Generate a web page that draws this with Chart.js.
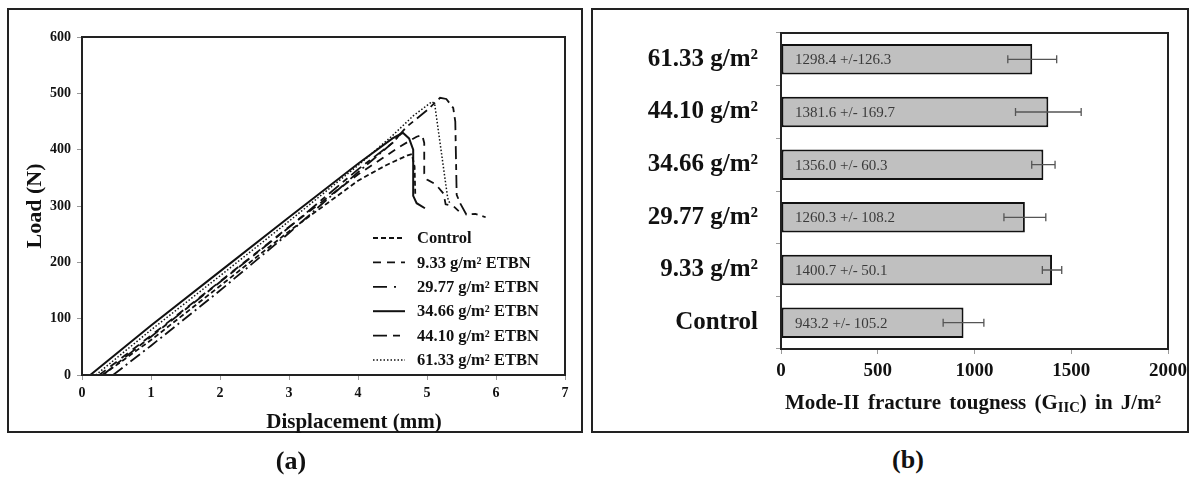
<!DOCTYPE html>
<html>
<head>
<meta charset="utf-8">
<script src="https://cdn.jsdelivr.net/npm/chart.js@4.4.1/dist/chart.umd.min.js"></script>
<style>
  html, body { margin: 0; padding: 0; background: #fff; }
  body { width: 1195px; height: 479px; position: relative; overflow: hidden; }
  .frame { position: absolute; box-sizing: border-box; border: 2px solid #222; }
  canvas { position: absolute; }
  .lbl {
    position: absolute; transform: translate(-50%, -50%); white-space: nowrap;
    font-family: "Liberation Serif", "Times New Roman", serif; font-weight: bold; color: #111;
  }
  .lbl sub { font-size: 70%; vertical-align: -0.25em; line-height: 0; }
</style>
</head>
<body>
<div class="frame" style="left:7px;top:8px;width:576px;height:425px"></div>
<div class="frame" style="left:591px;top:8px;width:598px;height:425px"></div>
<canvas id="chartA" width="590" height="440" style="left:0;top:0"></canvas>
<canvas id="chartB" width="605" height="440" style="left:590px;top:0"></canvas>
<div class="lbl" style="left:354px;top:421px;font-size:21px">Displacement (mm)</div>
<div class="lbl" style="left:973px;top:402px;font-size:21px;word-spacing:3px">Mode-II fracture tougness (G<sub>IIC</sub>) in J/m²</div>
<div class="lbl" style="left:291px;top:461px;font-size:26px">(a)</div>
<div class="lbl" style="left:908px;top:460px;font-size:26px">(b)</div>
<script>
// -------------------------
// Data (a): load vs displacement
// -------------------------
const SERIES_NAMES = ["Control", "9.33 g/m² ETBN", "29.77 g/m² ETBN", "34.66 g/m² ETBN", "44.10 g/m² ETBN", "61.33 g/m² ETBN"];

const ctrlX = [0.30, 1.0, 2.0, 3.0, 4.0, 4.4, 4.72, 4.78, 4.82, 4.83];
const ctrlY = [0, 62, 158, 255, 345, 372, 390, 392, 370, 320];

const e933X = [0.25, 1.0, 2.0, 3.0, 4.0, 4.6, 4.85, 4.93, 4.96, 4.96, 5.0, 5.13, 5.24, 5.27, 5.38, 5.46];
const e933Y = [0, 70, 166, 263, 356, 405, 423, 426, 412, 358, 347, 338, 322, 303, 300, 291];

const e2977X = [0.45, 1.0, 2.0, 3.0, 4.0, 4.5, 4.62];
const e2977Y = [0, 52, 150, 252, 360, 412, 428];

const e3466X = [0.12, 1.0, 2.0, 3.0, 4.0, 4.5, 4.65, 4.74, 4.80, 4.80, 4.85, 4.97];
const e3466Y = [0, 88, 184, 280, 375, 420, 430, 420, 400, 318, 305, 296];

const e4410X = [0.30, 1.0, 2.0, 3.0, 4.0, 4.5, 4.7, 5.0, 5.19, 5.28, 5.38, 5.41, 5.43, 5.48, 5.57, 5.70, 5.85];
const e4410Y = [0, 68, 165, 262, 365, 412, 440, 470, 492, 490, 474, 450, 320, 305, 285, 286, 280];

const e6133X = [0.20, 1.0, 2.0, 3.0, 4.0, 4.5, 4.8, 5.07, 5.11, 5.30, 5.33];
const e6133Y = [0, 80, 176, 273, 372, 425, 460, 485, 482, 314, 305];

const X_TICKS = [0, 1, 2, 3, 4, 5, 6, 7];
const Y_TICKS = [0, 100, 200, 300, 400, 500, 600];

// -------------------------
// Data (b): Mode-II fracture toughness
// -------------------------
const CATEGORIES = ["61.33 g/m²", "44.10 g/m²", "34.66 g/m²", "29.77 g/m²", "9.33 g/m²", "Control"];
const GIIC = [1298.4, 1381.6, 1356.0, 1260.3, 1400.7, 943.2];
const GIIC_ERR = [126.3, 169.7, 60.3, 108.2, 50.1, 105.2];
const BAR_TEXT = ["1298.4 +/-126.3", "1381.6 +/- 169.7", "1356.0 +/- 60.3", "1260.3 +/- 108.2", "1400.7 +/- 50.1", "943.2 +/- 105.2"];
const GIIC_TICKS = [0, 500, 1000, 1500, 2000];

const SERIF = "'Liberation Serif', 'Times New Roman', serif";

function pts(xs, ys) {
  return xs.map((x, i) => ({ x, y: ys[i] }));
}

// -------------------------
// Shared plugins
// -------------------------
const plotBox = {
  id: 'plotBox',
  afterDraw(chart) {
    const a = chart.chartArea, ctx = chart.ctx;
    ctx.save();
    ctx.strokeStyle = '#222';
    ctx.lineWidth = 2;
    ctx.strokeRect(a.left, a.top, a.right - a.left, a.bottom - a.top);
    ctx.restore();
  }
};

// legend drawn inside the plot area of (a)
const insideLegend = {
  id: 'insideLegend',
  afterDraw(chart) {
    const ctx = chart.ctx;
    ctx.save();
    chart.data.datasets.forEach((ds, i) => {
      const y = 238 + i * 24.4;
      ctx.beginPath();
      ctx.setLineDash(ds.legendDash || ds.borderDash || []);
      ctx.lineWidth = ds.borderWidth;
      ctx.strokeStyle = ds.borderColor;
      ctx.moveTo(373, y);
      ctx.lineTo(405, y);
      ctx.stroke();
      ctx.setLineDash([]);
      ctx.fillStyle = '#111';
      ctx.font = `bold 16.5px ${SERIF}`;
      ctx.textBaseline = 'middle';
      ctx.fillText(ds.label, 417, y + 1);
    });
    ctx.restore();
  }
};

// error bars + value text on bars of (b)
const barExtras = {
  id: 'barExtras',
  afterDatasetsDraw(chart) {
    const ctx = chart.ctx;
    const xs = chart.scales.x;
    const meta = chart.getDatasetMeta(0);
    ctx.save();
    meta.data.forEach((bar, i) => {
      const y = bar.y;
      const lo = xs.getPixelForValue(GIIC[i] - GIIC_ERR[i]);
      const hi = xs.getPixelForValue(GIIC[i] + GIIC_ERR[i]);
      ctx.strokeStyle = '#555';
      ctx.lineWidth = 1.3;
      ctx.beginPath();
      ctx.moveTo(lo, y); ctx.lineTo(hi, y);
      ctx.moveTo(lo, y - 4); ctx.lineTo(lo, y + 4);
      ctx.moveTo(hi, y - 4); ctx.lineTo(hi, y + 4);
      ctx.stroke();

      ctx.fillStyle = '#3a3a3a';
      ctx.font = `15px ${SERIF}`;
      ctx.textBaseline = 'middle';
      ctx.fillText(BAR_TEXT[i], chart.chartArea.left + 14, y + 1);
    });
    ctx.restore();
  }
};

// -------------------------
// Chart (a)
// -------------------------
const lineBase = { borderColor: '#111', pointRadius: 0, tension: 0, fill: false };

new Chart(document.getElementById('chartA'), {
  type: 'line',
  data: {
    datasets: [
      { ...lineBase, label: SERIES_NAMES[0], data: pts(ctrlX, ctrlY), borderWidth: 1.8, borderDash: [5, 3] },
      { ...lineBase, label: SERIES_NAMES[1], data: pts(e933X, e933Y), borderWidth: 1.8, borderDash: [8, 6] },
      { ...lineBase, label: SERIES_NAMES[2], data: pts(e2977X, e2977Y), borderWidth: 1.8, borderDash: [12, 4, 2, 4], legendDash: [14, 7, 2, 9] },
      { ...lineBase, label: SERIES_NAMES[3], data: pts(e3466X, e3466Y), borderWidth: 2, borderDash: [] },
      { ...lineBase, label: SERIES_NAMES[4], data: pts(e4410X, e4410Y), borderWidth: 1.8, borderDash: [13, 5, 6, 5], legendDash: [14, 6, 7, 5] },
      { ...lineBase, label: SERIES_NAMES[5], data: pts(e6133X, e6133Y), borderWidth: 1.5, borderDash: [1.5, 2] }
    ]
  },
  options: {
    responsive: false,
    animation: false,
    devicePixelRatio: 1,
    layout: { padding: { left: 22, right: 25, top: 37, bottom: 5 } },
    plugins: { legend: { display: false }, tooltip: { enabled: false } },
    scales: {
      x: {
        type: 'linear',
        min: X_TICKS[0],
        max: X_TICKS[X_TICKS.length - 1],
        afterBuildTicks: s => { s.ticks = X_TICKS.map(v => ({ value: v })); },
        afterFit: s => { s.height = 60; },
        ticks: { color: '#111', padding: 5, font: { family: SERIF, weight: 'bold', size: 14 }, callback: v => String(v) },
        grid: { drawOnChartArea: false, tickLength: 5, color: '#999' },
        border: { color: '#222', width: 2 }
      },
      y: {
        min: Y_TICKS[0],
        max: Y_TICKS[Y_TICKS.length - 1],
        afterBuildTicks: s => { s.ticks = Y_TICKS.map(v => ({ value: v })); },
        afterFit: s => { s.width = 60; },
        ticks: { color: '#111', padding: 6, font: { family: SERIF, weight: 'bold', size: 14 }, callback: v => String(v) },
        grid: { drawOnChartArea: false, tickLength: 5, color: '#999' },
        border: { color: '#222', width: 2 },
        title: {
          display: true, text: 'Load (N)', color: '#111',
          padding: { top: 0, bottom: 0 },
          font: { family: SERIF, weight: 'bold', size: 22 }
        }
      }
    }
  },
  plugins: [plotBox, insideLegend]
});

// -------------------------
// Chart (b)
// -------------------------
new Chart(document.getElementById('chartB'), {
  type: 'bar',
  data: {
    labels: CATEGORIES,
    datasets: [{
      data: GIIC,
      backgroundColor: '#c0c0c0',
      borderColor: '#111',
      borderWidth: 2,
      borderSkipped: false,
      categoryPercentage: 1,
      barPercentage: 0.58
    }]
  },
  options: {
    indexAxis: 'y',
    responsive: false,
    animation: false,
    devicePixelRatio: 1,
    layout: { padding: { left: 5, right: 27, top: 26, bottom: 51 } },
    plugins: { legend: { display: false }, tooltip: { enabled: false } },
    scales: {
      x: {
        min: GIIC_TICKS[0],
        max: GIIC_TICKS[GIIC_TICKS.length - 1],
        afterBuildTicks: s => { s.ticks = GIIC_TICKS.map(v => ({ value: v })); },
        afterFit: s => { s.height = 40; },
        ticks: { color: '#111', padding: 6, font: { family: SERIF, weight: 'bold', size: 19 }, callback: v => String(v) },
        grid: { drawOnChartArea: false, tickLength: 5, color: '#999' },
        border: { color: '#222', width: 2 }
      },
      y: {
        afterFit: s => { s.width = 186; },
        ticks: { color: '#111', padding: 18, font: { family: SERIF, weight: 'bold', size: 25 } },
        grid: { drawOnChartArea: false, tickLength: 5, color: '#999' },
        border: { color: '#222', width: 2 }
      }
    }
  },
  plugins: [plotBox, barExtras]
});
</script>
</body>
</html>
